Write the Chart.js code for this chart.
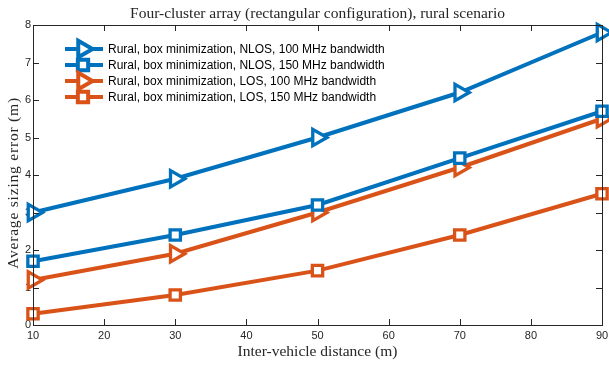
<!DOCTYPE html>
<html>
<head>
<meta charset="utf-8">
<script src="https://cdn.jsdelivr.net/npm/chart.js@4/dist/chart.umd.min.js"></script>
<style>
  html, body { margin: 0; padding: 0; background: #fff; }
  #wrap { width: 609px; height: 365px; }
</style>
</head>
<body>
<div id="wrap"><canvas id="chart" width="609" height="365"></canvas></div>
<script>
const distances = [10, 30, 50, 70, 90];
const nlos100 = [3.0, 3.9, 5.0, 6.2, 7.8];
const nlos150 = [1.7, 2.4, 3.2, 4.45, 5.7];
const los100 = [1.2, 1.9, 3.0, 4.2, 5.5];
const los150 = [0.3, 0.8, 1.45, 2.4, 3.5];
const seriesNames = [
  "Rural, box minimization, NLOS, 100 MHz bandwidth",
  "Rural, box minimization, NLOS, 150 MHz bandwidth",
  "Rural, box minimization, LOS, 100 MHz bandwidth",
  "Rural, box minimization, LOS, 150 MHz bandwidth"
];
const xTicks = [10, 20, 30, 40, 50, 60, 70, 80, 90];
const yTicks = [0, 1, 2, 3, 4, 5, 6, 7, 8];

const BLUE = "#0072BD";
const ORANGE = "#D95319";
const serif = "'Liberation Serif', 'DejaVu Serif', serif";
const sans = "'Liberation Sans', Arial, sans-serif";

function mkSet(label, data, color, style) {
  const tri = style === "triangle";
  return {
    label: label,
    data: data.map((v, i) => ({x: distances[i], y: v})),
    borderColor: color,
    backgroundColor: "#fff",
    pointBorderColor: color,
    pointBackgroundColor: "#fff",
    borderWidth: 4,
    pointBorderWidth: 3.3,
    pointStyle: style,
    pointRotation: tri ? 90 : 0,
    pointRadius: tri ? 9.5 : 7.3,
    pointHoverRadius: tri ? 9.5 : 7.3,
    tension: 0
  };
}

// box, inward ticks on all four sides, title, axis labels and legend
const matlabBox = {
  id: "matlabBox",
  afterDatasetsDraw(chart) {
    const {ctx, chartArea: a, scales} = chart;
    const xs = scales.x, ys = scales.y;
    ctx.save();
    ctx.strokeStyle = "#262626";
    ctx.lineWidth = 1;
    ctx.beginPath();
    xTicks.forEach(t => {
      const px = Math.round(xs.getPixelForValue(t)) + 0.5;
      ctx.moveTo(px, a.bottom); ctx.lineTo(px, a.bottom - 6);
      ctx.moveTo(px, a.top); ctx.lineTo(px, a.top + 6);
    });
    yTicks.forEach(t => {
      const py = Math.round(ys.getPixelForValue(t)) + 0.5;
      ctx.moveTo(a.left, py); ctx.lineTo(a.left + 6, py);
      ctx.moveTo(a.right, py); ctx.lineTo(a.right - 6, py);
    });
    ctx.stroke();
    ctx.strokeRect(Math.round(a.left) + 0.5, Math.round(a.top) + 0.5,
                   Math.round(a.right - a.left), Math.round(a.bottom - a.top));

    // title and axis labels
    ctx.fillStyle = "#262626";
    ctx.font = "15.5px " + serif;
    ctx.textAlign = "center";
    ctx.textBaseline = "middle";
    ctx.fillText("Four-cluster array (rectangular configuration), rural scenario", (a.left + a.right) / 2, 14);
    ctx.fillText("Inter-vehicle distance (m)", (a.left + a.right) / 2, 352);
    ctx.save();
    ctx.translate(14, 183);
    ctx.rotate(-Math.PI / 2);
    ctx.letterSpacing = "0.8px";
    ctx.fillText("Average sizing error (m)", 0, 0);
    ctx.restore();

    // legend
    ctx.font = "12px " + sans;
    ctx.textAlign = "left";
    chart.data.datasets.forEach((ds, i) => {
      const y = 49 + i * 16;
      ctx.strokeStyle = ds.borderColor;
      ctx.lineWidth = ds.borderWidth;
      ctx.beginPath();
      ctx.moveTo(65, y); ctx.lineTo(103, y);
      ctx.stroke();
      ctx.fillStyle = "#fff";
      Chart.helpers.drawPoint(ctx, {
        pointStyle: ds.pointStyle, rotation: ds.pointRotation,
        radius: ds.pointRadius, borderWidth: ds.pointBorderWidth
      }, 83, y);
      ctx.fillStyle = "#000";
      ctx.fillText(ds.label, 108, y + 1);
    });
    ctx.restore();
  }
};

new Chart(document.getElementById("chart"), {
  type: "line",
  data: {
    datasets: [
      mkSet(seriesNames[0], nlos100, BLUE, "triangle"),
      mkSet(seriesNames[1], nlos150, BLUE, "rect"),
      mkSet(seriesNames[2], los100, ORANGE, "triangle"),
      mkSet(seriesNames[3], los150, ORANGE, "rect")
    ]
  },
  options: {
    responsive: false,
    animation: false,
    clip: false,
    layout: { autoPadding: false, padding: { top: 25, right: 0, left: 0, bottom: 0 } },
    plugins: { legend: { display: false }, title: { display: false }, tooltip: { enabled: false } },
    scales: {
      x: {
        type: "linear", min: 10, max: 90,
        afterFit: s => { s.height = 40; s.paddingRight = 7; s.paddingLeft = 0; },
        afterBuildTicks: s => { s.ticks = xTicks.map(v => ({value: v})); },
        grid: { display: false, drawTicks: false },
        border: { display: false },
        ticks: { color: "#262626", font: { family: sans, size: 11 }, padding: 4, maxRotation: 0 },
        title: { display: false }
      },
      y: {
        type: "linear", min: 0, max: 8,
        afterFit: s => { s.width = 33; },
        afterBuildTicks: s => { s.ticks = yTicks.map(v => ({value: v})); },
        grid: { display: false, drawTicks: false },
        border: { display: false },
        ticks: { color: "#262626", font: { family: sans, size: 11 }, padding: 2 },
        title: { display: false }
      }
    }
  },
  plugins: [matlabBox]
});
</script>
</body>
</html>
